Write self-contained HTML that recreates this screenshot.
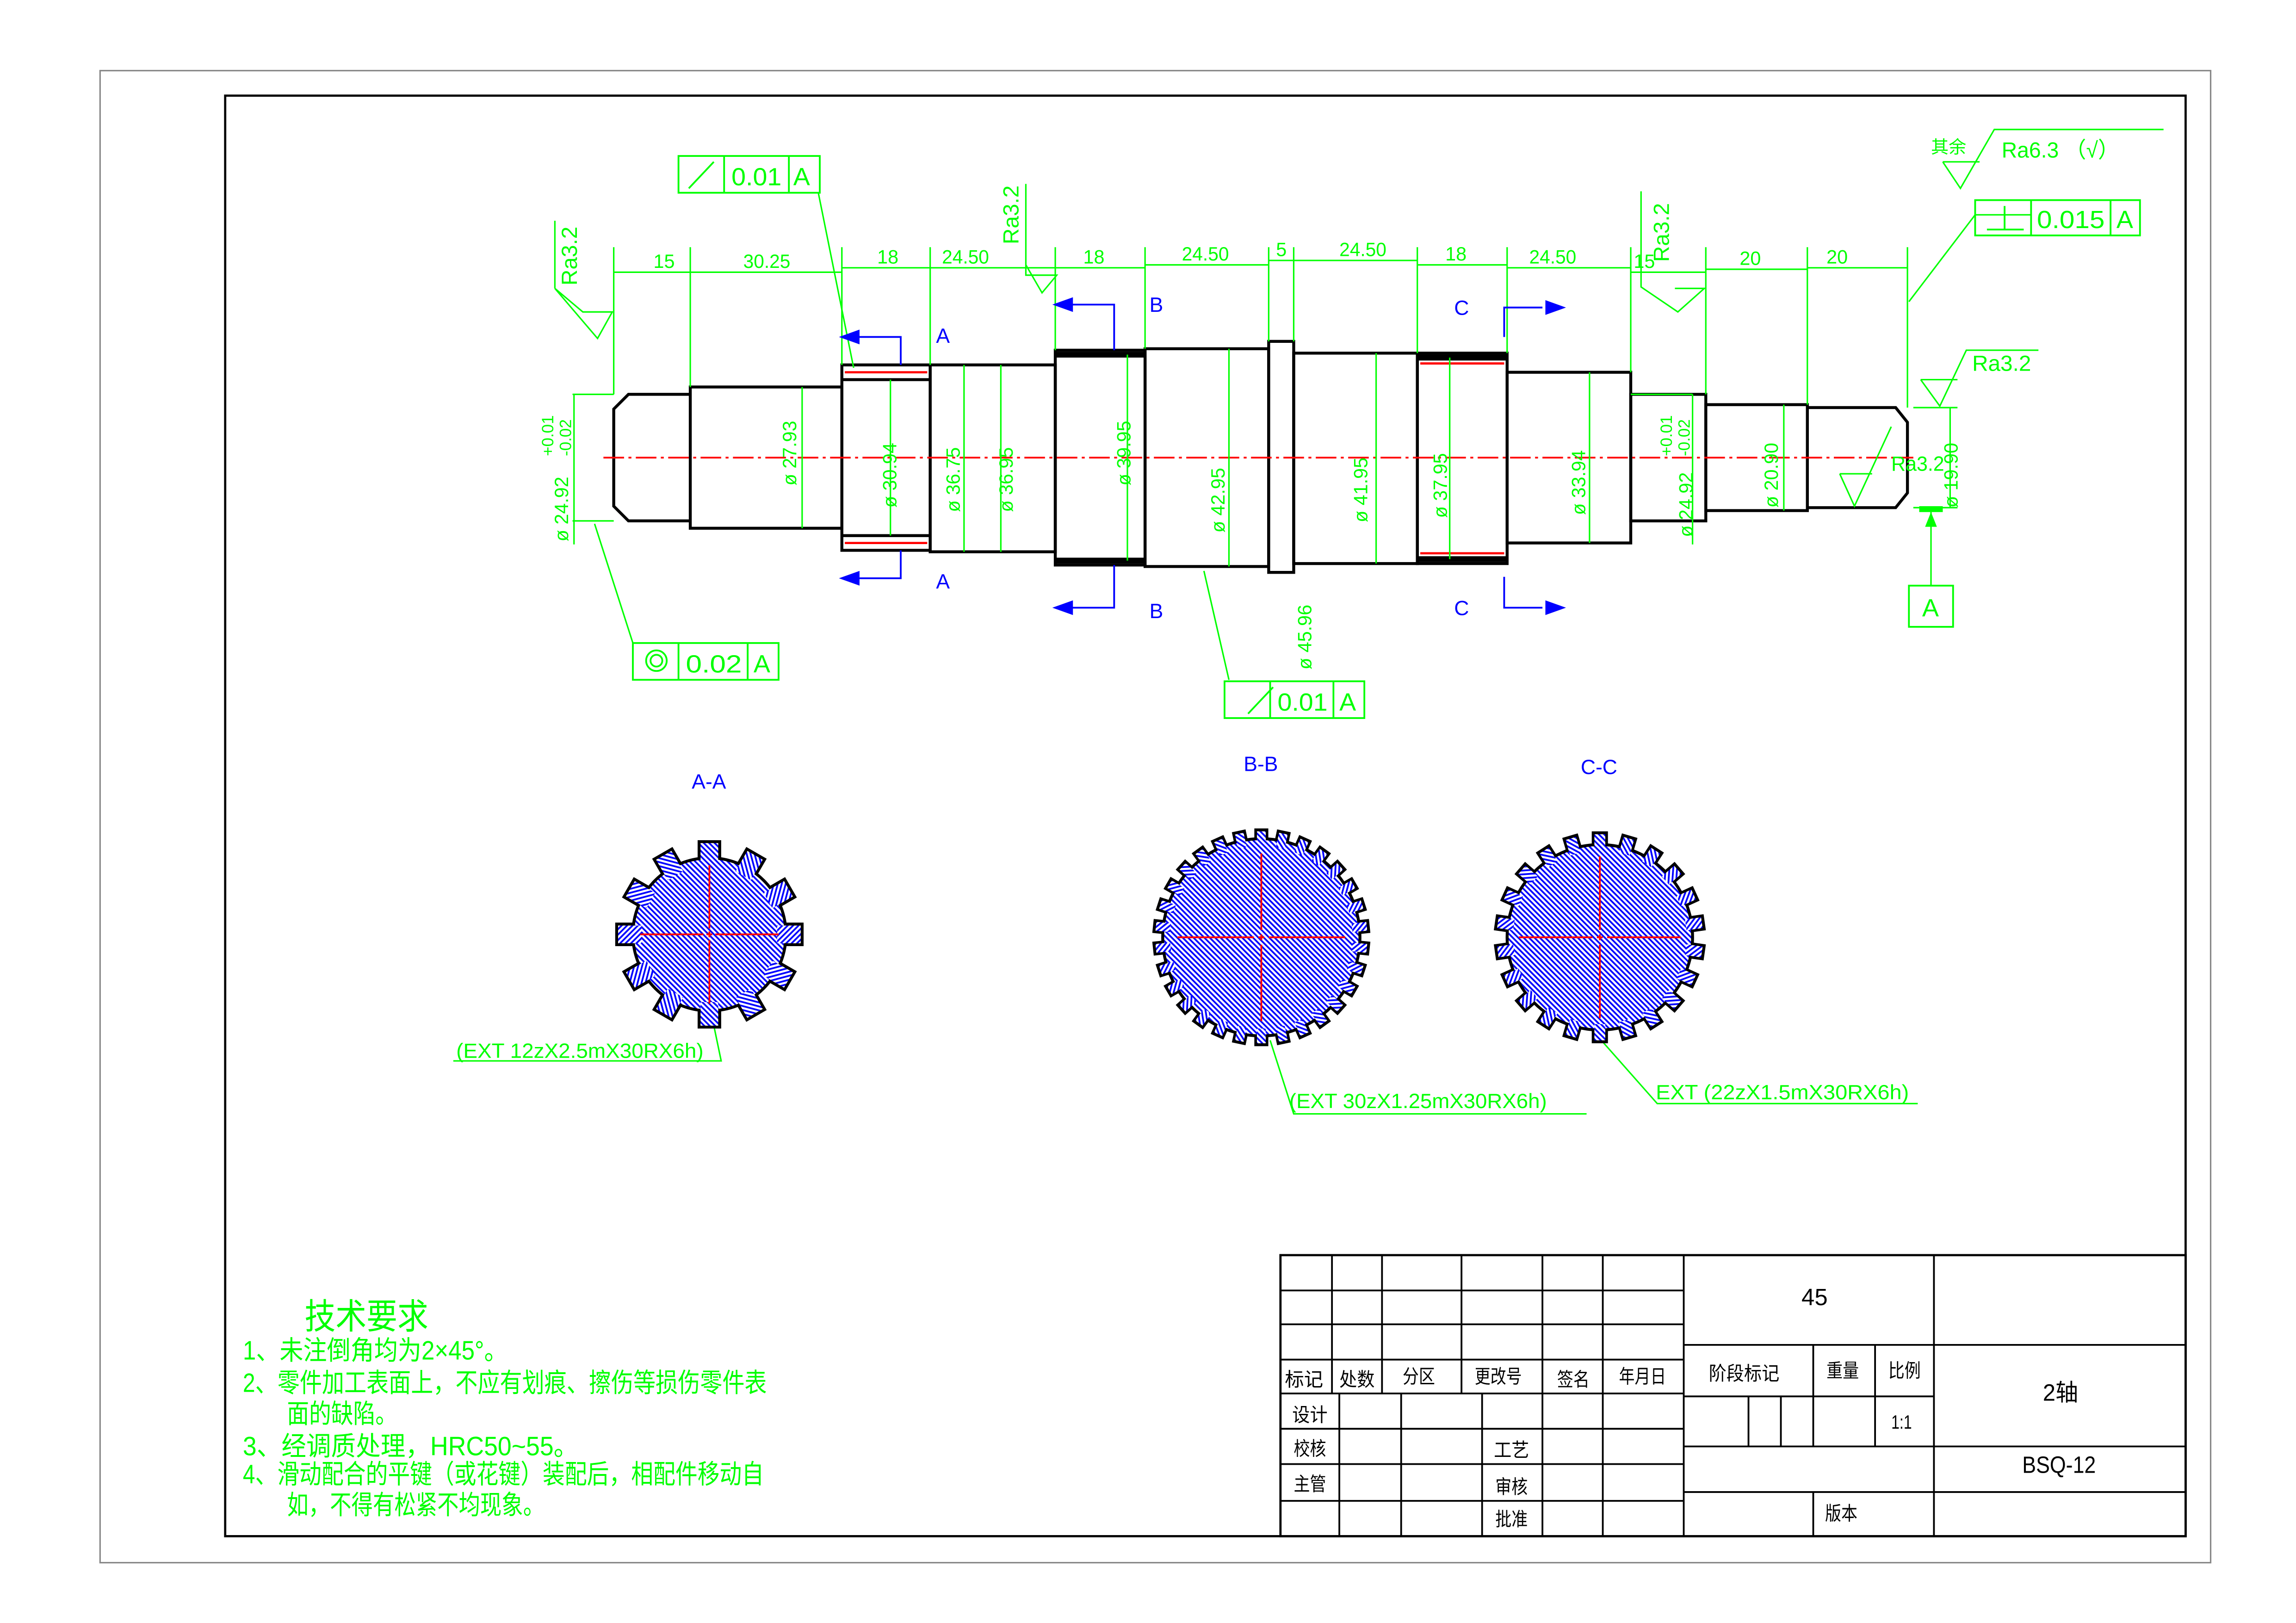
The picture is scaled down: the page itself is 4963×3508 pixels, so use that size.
<!DOCTYPE html>
<html><head><meta charset="utf-8">
<style>
html,body{margin:0;padding:0;background:#fff;}
svg{display:block;}
text{font-family:"Liberation Sans","Noto Sans CJK SC",sans-serif;}
</style></head>
<body>
<svg xmlns="http://www.w3.org/2000/svg" xmlns:xlink="http://www.w3.org/1999/xlink" width="4963" height="3508" viewBox="0 0 1560 1103" preserveAspectRatio="none">
<defs>
<pattern id="h" patternUnits="userSpaceOnUse" width="2.6" height="2.6" patternTransform="rotate(-45)">
<rect width="2.6" height="2.6" fill="#fff"/>
<rect width="1.2" height="2.6" fill="#0000ff"/>
</pattern>
<rect id="tA" x="475" y="572" width="14" height="16" fill="url(#h)" stroke="#000" stroke-width="2"/>
<rect id="fA" x="476" y="573" width="12" height="16" fill="url(#h)"/>
<rect id="tB" x="853.25" y="564" width="7.5" height="10" fill="url(#h)" stroke="#000" stroke-width="2"/>
<rect id="fB" x="854" y="565" width="6" height="10" fill="url(#h)"/>
<rect id="tC" x="1082.5" y="566" width="9" height="11" fill="url(#h)" stroke="#000" stroke-width="2"/>
<rect id="fC" x="1083.3" y="567" width="7.4" height="11" fill="url(#h)"/>
</defs>
<rect width="1560" height="1103" fill="#fff"/>
<rect x="68" y="48" width="1434" height="1014" fill="none" stroke="#888" stroke-width="1"/>
<rect x="153" y="65" width="1332" height="979" fill="none" stroke="#000" stroke-width="1.5"/>

<!-- shaft -->
<g fill="none" stroke="#000" stroke-width="2">
<path d="M469,268 H427 L417,278 V344 L427,354 H469"/>
<rect x="469" y="263" width="103" height="96"/>
<rect x="572" y="248" width="60" height="126"/>
<line x1="572" y1="258" x2="632" y2="258"/><line x1="572" y1="364" x2="632" y2="364"/>
<rect x="632" y="248" width="85" height="127"/>
<rect x="717" y="238" width="61" height="146"/>
<rect x="778" y="237" width="84" height="148"/>
<rect x="862" y="232" width="17" height="157"/>
<rect x="879" y="240" width="84" height="143"/>
<rect x="963" y="240" width="61" height="143"/>
<rect x="1024" y="253" width="84" height="116"/>
<rect x="1108" y="268" width="51" height="86"/>
<rect x="1159" y="275" width="69" height="72"/>
<path d="M1228,277 H1288 L1296,287 V335 L1288,345 H1228"/>
</g>
<g stroke="#000" stroke-width="4"><line x1="717" y1="241" x2="778" y2="241"/><line x1="717" y1="381" x2="778" y2="381"/>
<line x1="963" y1="243" x2="1024" y2="243"/><line x1="963" y1="380" x2="1024" y2="380"/></g>
<g stroke="#f00" stroke-width="1.5">
<line x1="574" y1="253" x2="630" y2="253"/><line x1="574" y1="369" x2="630" y2="369"/>
<line x1="965" y1="247" x2="1022" y2="247"/><line x1="965" y1="376" x2="1022" y2="376"/>
<line x1="410" y1="311" x2="1300" y2="311" stroke-dasharray="14,3,2,3" stroke-width="1.2"/>
</g>

<!-- green dims -->
<g stroke="#00ff00" stroke-width="1" fill="none">
<path d="M417,268V168 M469,263V168 M572,248V168 M632,248V168 M717,238V168 M778,237V168 M862,232V168 M879,232V168 M963,240V168 M1024,240V168 M1108,253V168 M1159,268V168 M1228,275V168 M1296,277V168"/>
<path d="M417,185H572 M572,182H717 M717,182H778 M778,180H862 M862,177H963 M963,180H1024 M1024,182H1108 M1108,185H1159 M1159,183H1228 M1228,182H1296"/>
<path d="M390,268V370 M389,268H417 M389,354H417 M545,263V359 M605,258V364 M655,248V375 M680,248V375 M766,241V381 M835,237V385 M935,240V383 M985,243V380 M1080,253V369 M1150,268V370 M1150,268H1108 M1212,275V347 M1325,277V345 M1300,277H1330 M1300,345H1330"/>
<path d="M556,131 L580,250 M404,356 L430,437 M818,388 L835,462 M1297,205 L1342,146 H1380"/>
<path d="M377,196 L406,230 L416,212 H396 Z M377,196 V150"/>
<path d="M697,180 L708,199 L718,187 H697 V125"/>
<path d="M1115,130 V195 L1140,212 L1158,196 H1138"/>
<path d="M1305,258 L1318,276 L1336,238 H1385 M1305,258 H1330"/>
<path d="M1250,322 L1260,344 L1285,290 M1250,322 H1272"/>
<path d="M1320,110 L1332,128 L1355,88 H1470 M1320,110 H1345"/>
<path d="M1312,348 V398"/>
<path d="M863,707 L879,757 H1078 M485,697 L490,721 H308 M1088,707 L1126,750 H1303"/>
</g>
<g fill="#00ff00">
<rect x="1304" y="344" width="16" height="4"/>
<polygon points="1312,348 1308,358 1316,358"/>
</g>
<g stroke="#00ff00" stroke-width="1.2" fill="none">
<rect x="461" y="106" width="96" height="25"/><line x1="492" y1="106" x2="492" y2="131"/><line x1="536" y1="106" x2="536" y2="131"/>
<rect x="430" y="437" width="99" height="25"/><line x1="461" y1="437" x2="461" y2="462"/><line x1="508" y1="437" x2="508" y2="462"/>
<rect x="832" y="463" width="95" height="25"/><line x1="863" y1="463" x2="863" y2="488"/><line x1="906" y1="463" x2="906" y2="488"/>
<rect x="1342" y="136" width="112" height="24"/><line x1="1380" y1="136" x2="1380" y2="160"/><line x1="1434" y1="136" x2="1434" y2="160"/>
<rect x="1297" y="398" width="30" height="28"/>
<circle cx="446" cy="449" r="7"/><circle cx="446" cy="449" r="4"/>
<path d="M468,128 L485,110 M848,485 L865,467 M1350,156 H1375 M1362,140 V156"/>
</g>
<g fill="#00ff00" font-size="17">
<text x="497" y="126" textLength="34" lengthAdjust="spacingAndGlyphs">0.01</text><text x="539" y="126">A</text>
<text x="466" y="457" textLength="38" lengthAdjust="spacingAndGlyphs">0.02</text><text x="512" y="457">A</text>
<text x="868" y="483" textLength="34" lengthAdjust="spacingAndGlyphs">0.01</text><text x="910" y="483">A</text>
<text x="1384" y="155" textLength="46" lengthAdjust="spacingAndGlyphs">0.015</text><text x="1438" y="155">A</text>
<text x="1306" y="419">A</text>
</g>
<g fill="#00ff00" font-size="13">
<text x="444" y="182">15</text><text x="505" y="182" textLength="32" lengthAdjust="spacingAndGlyphs">30.25</text>
<text x="596" y="179">18</text><text x="640" y="179" textLength="32" lengthAdjust="spacingAndGlyphs">24.50</text>
<text x="736" y="179">18</text><text x="803" y="177" textLength="32" lengthAdjust="spacingAndGlyphs">24.50</text>
<text x="867" y="174">5</text><text x="910" y="174" textLength="32" lengthAdjust="spacingAndGlyphs">24.50</text>
<text x="982" y="177">18</text><text x="1039" y="179" textLength="32" lengthAdjust="spacingAndGlyphs">24.50</text>
<text x="1110" y="182">15</text><text x="1182" y="180">20</text><text x="1241" y="179">20</text>
<text x="1340" y="252" font-size="15" textLength="40" lengthAdjust="spacingAndGlyphs">Ra3.2</text>
<text x="1360" y="107" font-size="15" textLength="80" lengthAdjust="spacingAndGlyphs">Ra6.3 （√）</text>
<text x="1312" y="104" font-size="12">其余</text>
<text x="1285" y="320" font-size="14" textLength="36" lengthAdjust="spacingAndGlyphs">Ra3.2</text>
</g>
<g fill="#00ff00" font-size="13">
<text transform="translate(392,194) rotate(-90)" font-size="15">Ra3.2</text>
<text transform="translate(692,166) rotate(-90)" font-size="15">Ra3.2</text>
<text transform="translate(1134,178) rotate(-90)" font-size="15">Ra3.2</text>
<text transform="translate(386,368) rotate(-90)">ø 24.92</text>
<text transform="translate(376,310) rotate(-90)" font-size="11">+0.01</text>
<text transform="translate(388,310) rotate(-90)" font-size="11">-0.02</text>
<text transform="translate(541,330) rotate(-90)">ø 27.93</text>
<text transform="translate(609,345) rotate(-90)">ø 30.94</text>
<text transform="translate(652,348) rotate(-90)">ø 36.75</text>
<text transform="translate(688,348) rotate(-90)">ø 36.95</text>
<text transform="translate(768,330) rotate(-90)">ø 39.95</text>
<text transform="translate(832,362) rotate(-90)">ø 42.95</text>
<text transform="translate(891,455) rotate(-90)">ø 45.96</text>
<text transform="translate(929,355) rotate(-90)">ø 41.95</text>
<text transform="translate(983,352) rotate(-90)">ø 37.95</text>
<text transform="translate(1077,350) rotate(-90)">ø 33.94</text>
<text transform="translate(1150,365) rotate(-90)">ø 24.92</text>
<text transform="translate(1136,310) rotate(-90)" font-size="11">+0.01</text>
<text transform="translate(1148,310) rotate(-90)" font-size="11">-0.02</text>
<text transform="translate(1208,345) rotate(-90)">ø 20.90</text>
<text transform="translate(1330,345) rotate(-90)">ø 19.90</text>
</g>

<g stroke="#0000ff" stroke-width="1.2" fill="none">
<path d="M580,229 H612 V248 M580,393 H612 V374 M724,207 H757 V238 M724,413 H757 V384 M1022,229 V209 H1048 M1022,392 V413 H1048"/>
</g>
<g fill="#0000ff">
<polygon points="570,229 584,224 584,234"/><polygon points="570,393 584,388 584,398"/>
<polygon points="715,207 729,202 729,212"/><polygon points="715,413 729,408 729,418"/>
<polygon points="1064,209 1050,204 1050,214"/><polygon points="1064,413 1050,408 1050,418"/>
</g>
<g fill="#0000ff" font-size="14">
<text x="636" y="233">A</text><text x="636" y="400">A</text>
<text x="781" y="212">B</text><text x="781" y="420">B</text>
<text x="988" y="214">C</text><text x="988" y="418">C</text>
<text x="470" y="536">A-A</text><text x="845" y="524">B-B</text><text x="1074" y="526">C-C</text>
</g>

<!-- Gear A: 12 teeth -->
<g>
<use xlink:href="#tA" transform="rotate(0 482 635)"/><use xlink:href="#tA" transform="rotate(30 482 635)"/><use xlink:href="#tA" transform="rotate(60 482 635)"/><use xlink:href="#tA" transform="rotate(90 482 635)"/><use xlink:href="#tA" transform="rotate(120 482 635)"/><use xlink:href="#tA" transform="rotate(150 482 635)"/><use xlink:href="#tA" transform="rotate(180 482 635)"/><use xlink:href="#tA" transform="rotate(210 482 635)"/><use xlink:href="#tA" transform="rotate(240 482 635)"/><use xlink:href="#tA" transform="rotate(270 482 635)"/><use xlink:href="#tA" transform="rotate(300 482 635)"/><use xlink:href="#tA" transform="rotate(330 482 635)"/>
<circle cx="482" cy="635" r="52" fill="url(#h)" stroke="#000" stroke-width="2"/>
<use xlink:href="#fA" transform="rotate(0 482 635)"/><use xlink:href="#fA" transform="rotate(30 482 635)"/><use xlink:href="#fA" transform="rotate(60 482 635)"/><use xlink:href="#fA" transform="rotate(90 482 635)"/><use xlink:href="#fA" transform="rotate(120 482 635)"/><use xlink:href="#fA" transform="rotate(150 482 635)"/><use xlink:href="#fA" transform="rotate(180 482 635)"/><use xlink:href="#fA" transform="rotate(210 482 635)"/><use xlink:href="#fA" transform="rotate(240 482 635)"/><use xlink:href="#fA" transform="rotate(270 482 635)"/><use xlink:href="#fA" transform="rotate(300 482 635)"/><use xlink:href="#fA" transform="rotate(330 482 635)"/>
<path d="M435,635H478 M480,635H484 M486,635H529 M482,588V631 M482,633V637 M482,639V682" stroke="#f00" stroke-width="1.2"/>
</g>

<!-- Gear B: 30 teeth -->
<g>
<use xlink:href="#tB" transform="rotate(0 857 637)"/><use xlink:href="#tB" transform="rotate(12 857 637)"/><use xlink:href="#tB" transform="rotate(24 857 637)"/><use xlink:href="#tB" transform="rotate(36 857 637)"/><use xlink:href="#tB" transform="rotate(48 857 637)"/><use xlink:href="#tB" transform="rotate(60 857 637)"/><use xlink:href="#tB" transform="rotate(72 857 637)"/><use xlink:href="#tB" transform="rotate(84 857 637)"/><use xlink:href="#tB" transform="rotate(96 857 637)"/><use xlink:href="#tB" transform="rotate(108 857 637)"/><use xlink:href="#tB" transform="rotate(120 857 637)"/><use xlink:href="#tB" transform="rotate(132 857 637)"/><use xlink:href="#tB" transform="rotate(144 857 637)"/><use xlink:href="#tB" transform="rotate(156 857 637)"/><use xlink:href="#tB" transform="rotate(168 857 637)"/><use xlink:href="#tB" transform="rotate(180 857 637)"/><use xlink:href="#tB" transform="rotate(192 857 637)"/><use xlink:href="#tB" transform="rotate(204 857 637)"/><use xlink:href="#tB" transform="rotate(216 857 637)"/><use xlink:href="#tB" transform="rotate(228 857 637)"/><use xlink:href="#tB" transform="rotate(240 857 637)"/><use xlink:href="#tB" transform="rotate(252 857 637)"/><use xlink:href="#tB" transform="rotate(264 857 637)"/><use xlink:href="#tB" transform="rotate(276 857 637)"/><use xlink:href="#tB" transform="rotate(288 857 637)"/><use xlink:href="#tB" transform="rotate(300 857 637)"/><use xlink:href="#tB" transform="rotate(312 857 637)"/><use xlink:href="#tB" transform="rotate(324 857 637)"/><use xlink:href="#tB" transform="rotate(336 857 637)"/><use xlink:href="#tB" transform="rotate(348 857 637)"/>
<circle cx="857" cy="637" r="67" fill="url(#h)" stroke="#000" stroke-width="2"/>
<use xlink:href="#fB" transform="rotate(0 857 637)"/><use xlink:href="#fB" transform="rotate(12 857 637)"/><use xlink:href="#fB" transform="rotate(24 857 637)"/><use xlink:href="#fB" transform="rotate(36 857 637)"/><use xlink:href="#fB" transform="rotate(48 857 637)"/><use xlink:href="#fB" transform="rotate(60 857 637)"/><use xlink:href="#fB" transform="rotate(72 857 637)"/><use xlink:href="#fB" transform="rotate(84 857 637)"/><use xlink:href="#fB" transform="rotate(96 857 637)"/><use xlink:href="#fB" transform="rotate(108 857 637)"/><use xlink:href="#fB" transform="rotate(120 857 637)"/><use xlink:href="#fB" transform="rotate(132 857 637)"/><use xlink:href="#fB" transform="rotate(144 857 637)"/><use xlink:href="#fB" transform="rotate(156 857 637)"/><use xlink:href="#fB" transform="rotate(168 857 637)"/><use xlink:href="#fB" transform="rotate(180 857 637)"/><use xlink:href="#fB" transform="rotate(192 857 637)"/><use xlink:href="#fB" transform="rotate(204 857 637)"/><use xlink:href="#fB" transform="rotate(216 857 637)"/><use xlink:href="#fB" transform="rotate(228 857 637)"/><use xlink:href="#fB" transform="rotate(240 857 637)"/><use xlink:href="#fB" transform="rotate(252 857 637)"/><use xlink:href="#fB" transform="rotate(264 857 637)"/><use xlink:href="#fB" transform="rotate(276 857 637)"/><use xlink:href="#fB" transform="rotate(288 857 637)"/><use xlink:href="#fB" transform="rotate(300 857 637)"/><use xlink:href="#fB" transform="rotate(312 857 637)"/><use xlink:href="#fB" transform="rotate(324 857 637)"/><use xlink:href="#fB" transform="rotate(336 857 637)"/><use xlink:href="#fB" transform="rotate(348 857 637)"/>
<path d="M800,637H852 M855,637H859 M862,637H914 M857,580V632 M857,635V639 M857,642V694" stroke="#f00" stroke-width="1.2"/>
</g>

<!-- Gear C: 22 teeth -->
<g>
<use xlink:href="#tC" transform="rotate(0 1087 637)"/><use xlink:href="#tC" transform="rotate(16.364 1087 637)"/><use xlink:href="#tC" transform="rotate(32.727 1087 637)"/><use xlink:href="#tC" transform="rotate(49.091 1087 637)"/><use xlink:href="#tC" transform="rotate(65.455 1087 637)"/><use xlink:href="#tC" transform="rotate(81.818 1087 637)"/><use xlink:href="#tC" transform="rotate(98.182 1087 637)"/><use xlink:href="#tC" transform="rotate(114.545 1087 637)"/><use xlink:href="#tC" transform="rotate(130.909 1087 637)"/><use xlink:href="#tC" transform="rotate(147.273 1087 637)"/><use xlink:href="#tC" transform="rotate(163.636 1087 637)"/><use xlink:href="#tC" transform="rotate(180 1087 637)"/><use xlink:href="#tC" transform="rotate(196.364 1087 637)"/><use xlink:href="#tC" transform="rotate(212.727 1087 637)"/><use xlink:href="#tC" transform="rotate(229.091 1087 637)"/><use xlink:href="#tC" transform="rotate(245.455 1087 637)"/><use xlink:href="#tC" transform="rotate(261.818 1087 637)"/><use xlink:href="#tC" transform="rotate(278.182 1087 637)"/><use xlink:href="#tC" transform="rotate(294.545 1087 637)"/><use xlink:href="#tC" transform="rotate(310.909 1087 637)"/><use xlink:href="#tC" transform="rotate(327.273 1087 637)"/><use xlink:href="#tC" transform="rotate(343.636 1087 637)"/>
<circle cx="1087" cy="637" r="63" fill="url(#h)" stroke="#000" stroke-width="2"/>
<use xlink:href="#fC" transform="rotate(0 1087 637)"/><use xlink:href="#fC" transform="rotate(16.364 1087 637)"/><use xlink:href="#fC" transform="rotate(32.727 1087 637)"/><use xlink:href="#fC" transform="rotate(49.091 1087 637)"/><use xlink:href="#fC" transform="rotate(65.455 1087 637)"/><use xlink:href="#fC" transform="rotate(81.818 1087 637)"/><use xlink:href="#fC" transform="rotate(98.182 1087 637)"/><use xlink:href="#fC" transform="rotate(114.545 1087 637)"/><use xlink:href="#fC" transform="rotate(130.909 1087 637)"/><use xlink:href="#fC" transform="rotate(147.273 1087 637)"/><use xlink:href="#fC" transform="rotate(163.636 1087 637)"/><use xlink:href="#fC" transform="rotate(180 1087 637)"/><use xlink:href="#fC" transform="rotate(196.364 1087 637)"/><use xlink:href="#fC" transform="rotate(212.727 1087 637)"/><use xlink:href="#fC" transform="rotate(229.091 1087 637)"/><use xlink:href="#fC" transform="rotate(245.455 1087 637)"/><use xlink:href="#fC" transform="rotate(261.818 1087 637)"/><use xlink:href="#fC" transform="rotate(278.182 1087 637)"/><use xlink:href="#fC" transform="rotate(294.545 1087 637)"/><use xlink:href="#fC" transform="rotate(310.909 1087 637)"/><use xlink:href="#fC" transform="rotate(327.273 1087 637)"/><use xlink:href="#fC" transform="rotate(343.636 1087 637)"/>
<path d="M1032,637H1082 M1085,637H1089 M1092,637H1142 M1087,582V632 M1087,635V639 M1087,642V692" stroke="#f00" stroke-width="1.2"/>
</g>

<g fill="#00ff00" font-size="14">
<text x="310" y="719" textLength="168" lengthAdjust="spacingAndGlyphs">(EXT 12zX2.5mX30RX6h)</text>
<text x="876" y="753" textLength="175" lengthAdjust="spacingAndGlyphs">(EXT 30zX1.25mX30RX6h)</text>
<text x="1125" y="747" textLength="172" lengthAdjust="spacingAndGlyphs">EXT (22zX1.5mX30RX6h)</text>
</g>

<g fill="#00ff00">
<text x="207" y="903" font-size="24" textLength="84" lengthAdjust="spacingAndGlyphs">技术要求</text>
<text x="165" y="924" font-size="18" textLength="180" lengthAdjust="spacingAndGlyphs">1、未注倒角均为2×45°。</text>
<text x="165" y="946" font-size="18" textLength="356" lengthAdjust="spacingAndGlyphs">2、零件加工表面上，不应有划痕、擦伤等损伤零件表</text>
<text x="195" y="967" font-size="18" textLength="75" lengthAdjust="spacingAndGlyphs">面的缺陷。</text>
<text x="165" y="989" font-size="18" textLength="228" lengthAdjust="spacingAndGlyphs">3、经调质处理，HRC50~55。</text>
<text x="165" y="1008" font-size="18" textLength="354" lengthAdjust="spacingAndGlyphs">4、滑动配合的平键（或花键）装配后，相配件移动自</text>
<text x="195" y="1029" font-size="18" textLength="175" lengthAdjust="spacingAndGlyphs">如，不得有松紧不均现象。</text>
</g>

<g stroke="#000" stroke-width="1.2" fill="none">
<rect x="870" y="853" width="615" height="191" stroke-width="1.5"/>
<path d="M870,877H1144 M870,900H1144 M870,924H1144 M870,947H1144 M870,971H1144 M870,995H1144 M870,1020H1144"/>
<path d="M905,853V947 M939,853V947 M993,853V947 M1048,853V1044 M1089,853V1044 M1144,853V1044"/>
<path d="M910,947V1044 M952,947V1044 M1007,947V1044"/>
<path d="M1144,914H1485 M1144,949H1314 M1144,983H1485 M1144,1014H1485"/>
<path d="M1232,914V983 M1274,914V983 M1314,853V1044 M1188,949V983 M1210,949V983 M1232,1014V1044"/>
</g>
<g fill="#000" font-size="13">
<text x="873" y="942" textLength="26" lengthAdjust="spacingAndGlyphs">标记</text><text x="910" y="942" textLength="24" lengthAdjust="spacingAndGlyphs">处数</text><text x="953" y="940" textLength="22" lengthAdjust="spacingAndGlyphs">分区</text>
<text x="1002" y="940" textLength="32" lengthAdjust="spacingAndGlyphs">更改号</text><text x="1058" y="942" textLength="22" lengthAdjust="spacingAndGlyphs">签名</text><text x="1100" y="940" textLength="32" lengthAdjust="spacingAndGlyphs">年月日</text>
<text x="878" y="966" textLength="24" lengthAdjust="spacingAndGlyphs">设计</text><text x="879" y="989" textLength="22" lengthAdjust="spacingAndGlyphs">校核</text><text x="1015" y="990" textLength="24" lengthAdjust="spacingAndGlyphs">工艺</text>
<text x="879" y="1013" textLength="22" lengthAdjust="spacingAndGlyphs">主管</text><text x="1016" y="1015" textLength="22" lengthAdjust="spacingAndGlyphs">审核</text><text x="1016" y="1037" textLength="22" lengthAdjust="spacingAndGlyphs">批准</text>
<text x="1161" y="938" textLength="48" lengthAdjust="spacingAndGlyphs">阶段标记</text><text x="1241" y="936" textLength="22" lengthAdjust="spacingAndGlyphs">重量</text><text x="1283" y="936" textLength="22" lengthAdjust="spacingAndGlyphs">比例</text>
<text x="1285" y="971" textLength="14" lengthAdjust="spacingAndGlyphs">1:1</text><text x="1240" y="1033" textLength="22" lengthAdjust="spacingAndGlyphs">版本</text>
<text x="1224" y="887" font-size="16">45</text>
<text x="1388" y="952" font-size="16" textLength="24" lengthAdjust="spacingAndGlyphs">2轴</text>
<text x="1374" y="1001" font-size="16" textLength="50" lengthAdjust="spacingAndGlyphs">BSQ-12</text>
</g>
</svg>
</body></html>
